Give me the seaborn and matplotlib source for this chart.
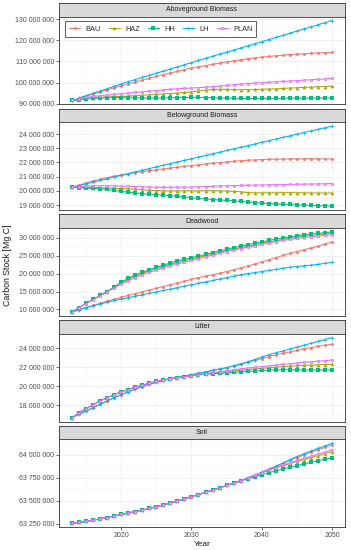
import numpy as np
import pandas as pd
import matplotlib
matplotlib.use('Agg')
import matplotlib.pyplot as plt
from matplotlib.ticker import FuncFormatter, MultipleLocator, AutoMinorLocator
import seaborn as sns

# ── DATA (values in million Mg C) ───────────────────────────────────────────
years = list(range(2013, 2051))
scenarios = ['BAU', 'HAZ', 'HH', 'LH', 'PLAN']
pools = ['Aboveground Biomass', 'Belowground Biomass', 'Deadwood', 'Litter', 'Soil']

agb_bau = [91.5, 92.5, 93.5, 94.5, 95.5, 96.5, 97.5, 98.4, 99.3, 100.2, 101.1, 102.0, 102.9, 103.7, 104.5, 105.3, 106.1, 106.8, 107.4,
           108.0, 108.6, 109.2, 109.7, 110.2, 110.7, 111.2, 111.6, 112.0, 112.3, 112.6, 112.9, 113.2, 113.4, 113.6, 113.8, 114.0, 114.1, 114.2]
agb_haz = [91.5, 92.0, 92.5, 92.8, 93.0, 93.2, 93.3, 93.4, 93.6, 93.8, 94.0, 94.2, 94.4, 94.6, 94.8, 95.0, 95.3, 95.6, 96.0,
           96.4, 96.7, 96.8, 96.8, 96.7, 96.6, 96.6, 96.7, 96.8, 96.9, 97.0, 97.2, 97.4, 97.5, 97.7, 97.8, 98.0, 98.1, 98.3]
agb_hh = [91.5, 91.9, 92.2, 92.5, 92.7, 92.8, 92.9, 92.9, 92.8, 92.8, 92.7, 92.7, 92.7, 92.7, 92.8, 92.8, 92.9, 93.0, 93.0,
          92.9, 92.8, 92.7, 92.6, 92.6, 92.5, 92.5, 92.5, 92.5, 92.5, 92.5, 92.6, 92.6, 92.6, 92.6, 92.7, 92.7, 92.7, 92.7]
agb_lh = [91.5, 92.7, 93.8, 94.9, 96.0, 97.1, 98.2, 99.3, 100.4, 101.4, 102.4, 103.4, 104.4, 105.4, 106.4, 107.4, 108.4, 109.4, 110.4,
          111.4, 112.4, 113.4, 114.3, 115.3, 116.3, 117.3, 118.3, 119.3, 120.3, 121.3, 122.3, 123.3, 124.3, 125.3, 126.3, 127.3, 128.3, 129.3]
agb_plan = [91.5, 92.4, 93.0, 93.4, 93.8, 94.1, 94.4, 94.7, 95.0, 95.3, 95.6, 95.9, 96.2, 96.5, 96.8, 97.0, 97.2, 97.4, 97.6,
            97.8, 98.0, 98.3, 98.6, 98.9, 99.2, 99.5, 99.7, 99.9, 100.1, 100.3, 100.5, 100.7, 100.9, 101.1, 101.3, 101.5, 101.7, 102.0]

bgb_bau = [20.25, 20.40, 20.55, 20.70, 20.82, 20.93, 21.03, 21.12, 21.20, 21.28, 21.35, 21.42, 21.48, 21.54, 21.60, 21.66, 21.72, 21.78, 21.84,
           21.89, 21.94, 21.99, 22.04, 22.08, 22.12, 22.15, 22.18, 22.20, 22.22, 22.23, 22.24, 22.25, 22.26, 22.26, 22.26, 22.26, 22.25, 22.25]
bgb_haz = [20.25, 20.25, 20.24, 20.23, 20.22, 20.20, 20.18, 20.16, 20.14, 20.12, 20.08, 20.04, 20.02, 20.00, 20.00, 20.00, 20.00, 20.00, 20.00,
           20.01, 20.01, 20.00, 19.99, 19.97, 19.93, 19.88, 19.86, 19.86, 19.86, 19.86, 19.87, 19.87, 19.87, 19.86, 19.85, 19.85, 19.85, 19.85]
bgb_hh = [20.25, 20.22, 20.20, 20.17, 20.14, 20.10, 20.04, 19.96, 19.90, 19.85, 19.80, 19.75, 19.72, 19.69, 19.66, 19.62, 19.57, 19.52, 19.47,
          19.43, 19.39, 19.36, 19.33, 19.30, 19.26, 19.22, 19.18, 19.14, 19.11, 19.08, 19.06, 19.04, 19.02, 19.00, 18.98, 18.96, 18.94, 18.92]
bgb_lh = [20.25, 20.37, 20.49, 20.61, 20.73, 20.85, 20.97, 21.09, 21.21, 21.33, 21.45, 21.57, 21.69, 21.80, 21.92, 22.03, 22.15, 22.26, 22.38,
          22.49, 22.61, 22.72, 22.84, 22.95, 23.07, 23.18, 23.30, 23.41, 23.53, 23.64, 23.76, 23.87, 23.99, 24.10, 24.22, 24.33, 24.44, 24.55]
bgb_plan = [20.25, 20.30, 20.33, 20.35, 20.36, 20.36, 20.35, 20.34, 20.32, 20.30, 20.28, 20.27, 20.26, 20.25, 20.25, 20.25, 20.26, 20.27, 20.28,
            20.30, 20.32, 20.34, 20.36, 20.37, 20.38, 20.39, 20.40, 20.41, 20.42, 20.43, 20.44, 20.45, 20.46, 20.47, 20.48, 20.49, 20.50, 20.51]

dw_bau = [9.3, 9.9, 10.5, 11.1, 11.7, 12.3, 12.8, 13.4, 13.9, 14.4, 14.9, 15.4, 15.9, 16.4, 16.9, 17.4, 17.9, 18.4, 18.9,
          19.3, 19.7, 20.1, 20.6, 21.1, 21.6, 22.1, 22.7, 23.3, 23.9, 24.5, 25.1, 25.7, 26.2, 26.7, 27.2, 27.7, 28.3, 28.9]
dw_haz = [9.3, 10.5, 11.7, 12.8, 13.9, 15.0, 16.2, 17.4, 18.4, 19.3, 20.1, 20.8, 21.4, 22.0, 22.6, 23.1, 23.6, 24.1, 24.6,
          25.0, 25.5, 26.0, 26.4, 26.9, 27.3, 27.7, 28.1, 28.5, 28.9, 29.2, 29.6, 29.9, 30.2, 30.5, 30.7, 30.9, 31.1, 31.3]
dw_hh = [9.3, 10.5, 11.7, 12.8, 13.9, 15.0, 16.3, 17.6, 18.7, 19.6, 20.4, 21.1, 21.8, 22.4, 23.0, 23.6, 24.0, 24.5, 24.9,
         25.4, 25.9, 26.4, 26.8, 27.3, 27.7, 28.1, 28.5, 28.9, 29.3, 29.7, 30.0, 30.3, 30.6, 30.9, 31.1, 31.3, 31.5, 31.7]
dw_lh = [9.3, 9.9, 10.5, 11.0, 11.5, 12.0, 12.5, 12.9, 13.3, 13.7, 14.1, 14.5, 14.9, 15.3, 15.7, 16.1, 16.5, 16.9, 17.3,
         17.7, 18.1, 18.5, 18.9, 19.3, 19.7, 20.0, 20.3, 20.6, 20.9, 21.2, 21.5, 21.8, 22.0, 22.2, 22.4, 22.6, 22.9, 23.2]
dw_plan = [9.3, 10.5, 11.6, 12.7, 13.8, 14.9, 16.0, 17.1, 18.0, 18.9, 19.7, 20.4, 21.0, 21.6, 22.2, 22.7, 23.2, 23.7, 24.2,
           24.7, 25.2, 25.7, 26.2, 26.6, 27.0, 27.4, 27.8, 28.2, 28.6, 29.0, 29.3, 29.6, 29.9, 30.1, 30.3, 30.5, 30.7, 30.8]

lit_bau = [16.7, 17.05, 17.4, 17.75, 18.1, 18.45, 18.8, 19.1, 19.4, 19.7, 19.95, 20.2, 20.4, 20.6, 20.75, 20.9, 21.05, 21.2, 21.35,
           21.5, 21.65, 21.8, 21.95, 22.1, 22.3, 22.5, 22.7, 22.9, 23.1, 23.3, 23.45, 23.6, 23.75, 23.9, 24.05, 24.2, 24.3, 24.4]
lit_haz = [16.7, 17.2, 17.65, 18.05, 18.45, 18.8, 19.1, 19.4, 19.65, 19.9, 20.1, 20.3, 20.5, 20.65, 20.8, 20.9, 21.0, 21.1, 21.2,
           21.28, 21.36, 21.44, 21.52, 21.6, 21.68, 21.75, 21.82, 21.88, 21.94, 22.0, 22.05, 22.1, 22.14, 22.18, 22.21, 22.24, 22.27, 22.3]
lit_hh = [16.7, 17.2, 17.65, 18.05, 18.45, 18.8, 19.1, 19.4, 19.65, 19.9, 20.1, 20.3, 20.5, 20.65, 20.8, 20.9, 21.0, 21.1, 21.2,
          21.25, 21.3, 21.35, 21.4, 21.45, 21.5, 21.55, 21.6, 21.65, 21.7, 21.7, 21.72, 21.72, 21.72, 21.7, 21.7, 21.7, 21.7, 21.7]
lit_lh = [16.7, 17.05, 17.4, 17.75, 18.1, 18.45, 18.8, 19.1, 19.4, 19.7, 19.95, 20.2, 20.4, 20.6, 20.75, 20.9, 21.05, 21.2, 21.35,
          21.5, 21.65, 21.8, 21.95, 22.15, 22.35, 22.55, 22.8, 23.05, 23.3, 23.5, 23.7, 23.9, 24.1, 24.3, 24.5, 24.7, 24.9, 25.1]
lit_plan = [16.7, 17.2, 17.65, 18.05, 18.45, 18.8, 19.1, 19.4, 19.65, 19.9, 20.1, 20.3, 20.5, 20.65, 20.8, 20.9, 21.0, 21.1, 21.22,
            21.32, 21.42, 21.52, 21.62, 21.72, 21.82, 21.9, 21.98, 22.05, 22.12, 22.2, 22.28, 22.35, 22.42, 22.5, 22.56, 22.62, 22.68, 22.75]

soil_bau = [63.255, 63.265, 63.276, 63.289, 63.303, 63.318, 63.334, 63.351, 63.367, 63.383, 63.400, 63.417, 63.435, 63.455, 63.476, 63.498,
            63.521, 63.545, 63.568, 63.592, 63.616, 63.641, 63.667, 63.693, 63.720, 63.748, 63.778, 63.810, 63.841, 63.873, 63.906, 63.939,
            63.971, 64.000, 64.028, 64.055, 64.082, 64.108]
soil_haz = [63.255, 63.265, 63.276, 63.289, 63.303, 63.318, 63.334, 63.351, 63.367, 63.383, 63.400, 63.417, 63.435, 63.455, 63.476, 63.498,
            63.521, 63.545, 63.568, 63.592, 63.616, 63.641, 63.667, 63.693, 63.720, 63.748, 63.776, 63.806, 63.834, 63.858, 63.882, 63.905,
            63.927, 63.949, 63.970, 63.991, 64.012, 64.035]
soil_hh = [63.255, 63.265, 63.276, 63.289, 63.303, 63.318, 63.334, 63.351, 63.367, 63.383, 63.400, 63.417, 63.435, 63.455, 63.476, 63.498,
           63.521, 63.545, 63.568, 63.592, 63.616, 63.641, 63.667, 63.690, 63.715, 63.740, 63.762, 63.785, 63.806, 63.826, 63.846, 63.865,
           63.884, 63.902, 63.919, 63.936, 63.952, 63.968]
soil_lh = [63.255, 63.265, 63.276, 63.289, 63.303, 63.318, 63.334, 63.351, 63.367, 63.383, 63.400, 63.417, 63.435, 63.455, 63.476, 63.498,
           63.521, 63.545, 63.568, 63.592, 63.616, 63.641, 63.667, 63.693, 63.720, 63.748, 63.778, 63.810, 63.843, 63.877, 63.912, 63.947,
           63.982, 64.012, 64.042, 64.070, 64.098, 64.126]
soil_plan = [63.255, 63.265, 63.276, 63.289, 63.303, 63.318, 63.334, 63.351, 63.367, 63.383, 63.400, 63.417, 63.435, 63.455, 63.476, 63.498,
             63.521, 63.545, 63.568, 63.592, 63.616, 63.641, 63.667, 63.693, 63.720, 63.748, 63.777, 63.808, 63.836, 63.862, 63.888, 63.913,
             63.937, 63.961, 63.984, 64.007, 64.030, 64.055]

pool_series = {
    'Aboveground Biomass': [agb_bau, agb_haz, agb_hh, agb_lh, agb_plan],
    'Belowground Biomass': [bgb_bau, bgb_haz, bgb_hh, bgb_lh, bgb_plan],
    'Deadwood': [dw_bau, dw_haz, dw_hh, dw_lh, dw_plan],
    'Litter': [lit_bau, lit_haz, lit_hh, lit_lh, lit_plan],
    'Soil': [soil_bau, soil_haz, soil_hh, soil_lh, soil_plan],
}
y_steps = [10e6, 1e6, 5e6, 2e6, 0.25e6]

rows = []
for pool, series in pool_series.items():
    for scen, vals in zip(scenarios, series):
        for yr, v in zip(years, vals):
            rows.append((pool, scen, yr, v * 1e6))
df = pd.DataFrame(rows, columns=['pool', 'scenario', 'year', 'stock'])

# ── STYLE ───────────────────────────────────────────────────────────────────
colors = {'BAU': '#F8766D', 'HAZ': '#A3A500', 'HH': '#00BF7D', 'LH': '#00B0F6', 'PLAN': '#E76BF3'}
# marker, size, edge width, face colour
mstyle = {
    'BAU': ('o', 2.1, 0.0, None),
    'HAZ': ('^', 2.6, 0.0, None),
    'HH': ('s', 2.4, 0.0, None),
    'LH': ('+', 2.2, 0.45, None),
    'PLAN': ('s', 2.0, 0.5, '#F3B5F7'),
}

sns.set_style('white')
plt.rcParams['font.family'] = ['Liberation Sans', 'DejaVu Sans']

W, H = 351, 550
fig = plt.figure(figsize=(W / 100, H / 100), dpi=100)
fig.patch.set_facecolor('white')

LEFT, RIGHT = 59, 345
STRIP_H, PANEL_H, PERIOD, TOP0 = 13.5, 88, 105.7, 3


def px_axes(left, top, w, h):
    return fig.add_axes([left / W, 1 - (top + h) / H, w / W, h / H])


fmt = FuncFormatter(lambda v, p: f'{v:,.0f}'.replace(',', ' '))

for i, pool in enumerate(pools):
    top = TOP0 + i * PERIOD
    strip = px_axes(LEFT, top, RIGHT - LEFT, STRIP_H)
    strip.set_facecolor('#D9D9D9')
    strip.set_xticks([])
    strip.set_yticks([])
    for sp in strip.spines.values():
        sp.set_edgecolor('#333333')
        sp.set_linewidth(0.6)
    strip.text(0.5, 0.5, pool, ha='center', va='center', fontsize=5.0, color='#1A1A1A',
               transform=strip.transAxes)

    ax = px_axes(LEFT, top + STRIP_H, RIGHT - LEFT, PANEL_H)
    sub = df[df['pool'] == pool]
    for scen in scenarios:
        d = sub[sub['scenario'] == scen]
        sns.lineplot(data=d, x='year', y='stock', color=colors[scen], errorbar=None,
                     ax=ax, legend=False)
    # set line / marker look explicitly
    for scen, line in zip(scenarios, ax.get_lines()):
        m, ms, mew, mfc = mstyle[scen]
        line.set_linestyle('-')
        line.set_linewidth(0.75)
        line.set_marker(m)
        line.set_markersize(ms)
        line.set_markeredgewidth(mew)
        line.set_markeredgecolor(colors[scen])
        line.set_markerfacecolor(mfc if mfc else colors[scen])
        line.set_label(scen)

    ax.set_xlim(2013 - 1.85, 2050 + 1.85)
    ax.margins(y=0.05)
    ax.autoscale_view(scalex=False)
    ax.yaxis.set_major_locator(MultipleLocator(y_steps[i]))
    ax.yaxis.set_minor_locator(AutoMinorLocator(2))
    ax.xaxis.set_major_locator(MultipleLocator(10))
    ax.xaxis.set_minor_locator(AutoMinorLocator(2))
    ax.yaxis.set_major_formatter(fmt)
    ax.grid(True, which='major', color='#EBEBEB', linewidth=0.5)
    ax.grid(True, which='minor', color='#F3F3F3', linewidth=0.3)
    ax.set_axisbelow(True)
    for sp in ax.spines.values():
        sp.set_edgecolor('#333333')
        sp.set_linewidth(0.6)
    ax.tick_params(axis='both', which='major', length=2, width=0.5, color='#333333',
                   labelsize=5.0, labelcolor='#4D4D4D', pad=1.5, left=True, bottom=True)
    ax.tick_params(axis='both', which='minor', length=0)
    ax.set_xlabel('')
    ax.set_ylabel('')

    if i < len(pools) - 1:
        ax.tick_params(axis='x', which='major', bottom=False, labelbottom=False)

    if i == 0:
        leg = ax.legend(ax.get_lines()[:5], scenarios, loc='upper left',
                        bbox_to_anchor=(0.022, 0.944), borderaxespad=0, ncol=5,
                        fontsize=5.3, frameon=True, fancybox=False, handlelength=1.5,
                        handletextpad=0.7, columnspacing=1.1, borderpad=0.55)
        leg.get_frame().set_edgecolor('#333333')
        leg.get_frame().set_linewidth(0.7)

fig.text(8 / W, 1 - 265 / H, 'Carbon Stock [Mg C]', rotation=90, ha='center', va='center',
         fontsize=6.3, color='#1A1A1A')
fig.text((LEFT + RIGHT) / 2 / W, 1 - 544.5 / H, 'Year', ha='center', va='center',
         fontsize=6.0, color='#1A1A1A')

fig.savefig('out.png', dpi=100, facecolor='white')
